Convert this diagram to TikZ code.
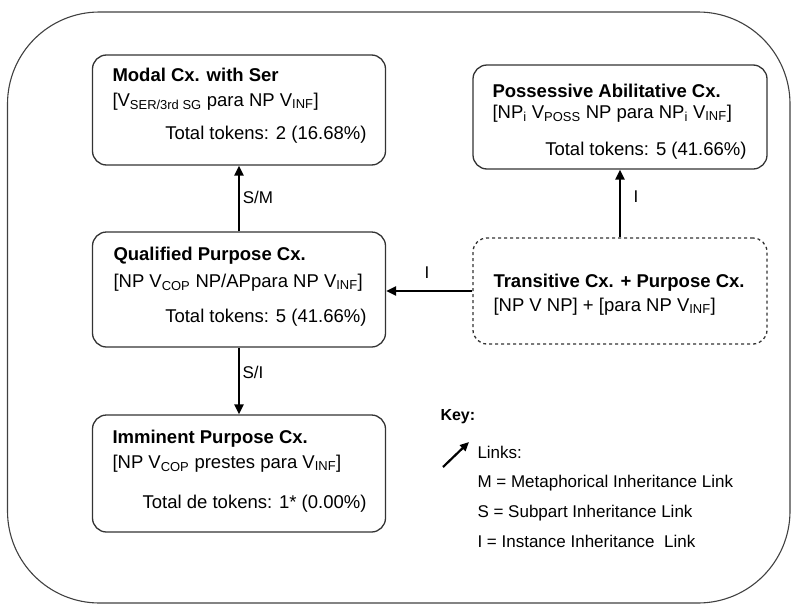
\documentclass[tikz,border=0pt]{standalone}
\usepackage{fontspec}
\setmainfont{Liberation Sans}
\usepackage{tikz}
\usetikzlibrary{arrows.meta}

\newcommand{\lo}[1]{\textsubscript{#1}}
\tikzset{
  cxbox/.style={draw=black!80, line width=1.3pt, rounded corners=14pt, inner sep=0pt, minimum width=293},
  cxtitle/.style={anchor=base west, inner sep=0pt, font=\fontsize{18.5}{22}\selectfont\bfseries},
  cxtext/.style={anchor=base west, inner sep=0pt, font=\fontsize{18.5}{22}\selectfont},
  cxtotal/.style={anchor=base east, inner sep=0pt, font=\fontsize{18.5}{22}\selectfont},
  keytext/.style={anchor=base west, inner sep=0pt, font=\fontsize{17}{20}\selectfont},
  linklabel/.style={inner sep=1pt, font=\fontsize{17}{20}\selectfont},
  link/.style={line width=2.4pt, -{Triangle[length=10pt, width=9pt]}}
}

\begin{document}
\begin{tikzpicture}[x=1pt, y=-1pt, line width=1pt]
    \useasboundingbox (0,0) rectangle (791,605);
    \draw[draw=black!75, line width=1.1pt, rounded corners=92pt] (7.5,12) rectangle (790,603);

    \node[cxbox, minimum height=110] (modal) at (239,110) {};
    \node[cxbox, minimum height=104, minimum width=294] (poss) at (620,117) {};
    \node[cxbox, minimum height=115] (qual) at (239,289.5) {};
    \node[cxbox, dashed, minimum height=106, minimum width=294] (trans) at (620,291) {};
    \node[cxbox, minimum height=117] (immi) at (239,473.5) {};

    \node[cxtitle] (modalT) at (112,81) {Modal Cx. with Ser};
    \node[cxtext] (modalF) at (112,106) {[V\lo{SER/3rd SG} para NP V\lo{INF}]};
    \node[cxtotal] (modalN) at (367,139) {Total tokens: 2 (16.68\%)};

    \node[cxtitle] (possT) at (492,97) {Possessive Abilitative Cx.};
    \node[cxtext] (possF) at (492,118) {[NP\lo{i} V\lo{POSS} NP para NP\lo{i} V\lo{INF}]};
    \node[cxtotal] (possN) at (747,155) {Total tokens: 5 (41.66\%)};

    \node[cxtitle] (qualT) at (113,260) {Qualified Purpose Cx.};
    \node[cxtext] (qualF) at (113,287) {[NP V\lo{COP} NP/APpara NP V\lo{INF}]};
    \node[cxtotal] (qualN) at (367,322) {Total tokens: 5 (41.66\%)};

    \node[cxtitle] (transT) at (493,287) {Transitive Cx. + Purpose Cx.};
    \node[cxtext] (transF) at (493,311) {[NP V NP] + [para NP V\lo{INF}]};

    \node[cxtitle] (immiT) at (112,443) {Imminent Purpose Cx.};
    \node[cxtext] (immiF) at (112,468) {[NP V\lo{COP} prestes para V\lo{INF}]};
    \node[cxtotal] (immiN) at (367,508) {Total de tokens: 1* (0.00\%)};

    \draw[link] (qual.north) -- (modal.south);
    \draw[link] (trans.north) -- (poss.south);
    \draw[link] (trans.west) -- (trans.west -| qual.east);
    \draw[link] (qual.south) -- (immi.north);

    \node[linklabel] (lblSM) at (258,197) {S/M};
    \node[linklabel] (lblI1) at (636,197) {I};
    \node[linklabel] (lblI2) at (427,273) {I};
    \node[linklabel] (lblSI) at (253,372) {S/I};

    \node[keytext, font=\fontsize{16}{20}\selectfont\bfseries] (key) at (440,420) {Key:};
    \coordinate (keyA) at (443,467);
    \coordinate (keyB) at (469,442);
    \draw[line width=2.2pt, -{Triangle[length=9pt, width=8pt]}] (keyA) -- (keyB);
    \node[keytext] (links) at (477,458) {Links:};
    \node[keytext] (keyM) at (477,487) {M = Metaphorical Inheritance Link};
    \node[keytext] (keyS) at (477,517) {S = Subpart Inheritance Link};
    \node[keytext] (keyI) at (477,547) {I = Instance Inheritance~ Link};
\end{tikzpicture}
\end{document}
